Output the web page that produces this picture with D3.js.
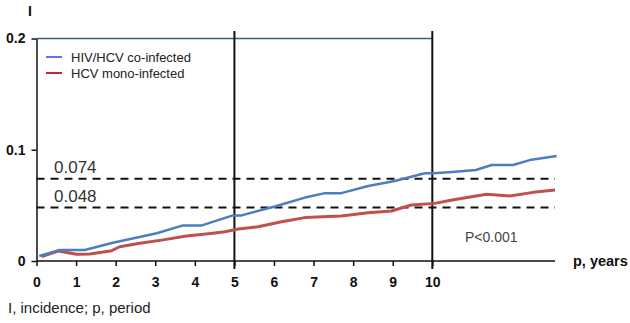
<!DOCTYPE html>
<html><head><meta charset="utf-8">
<script src="https://cdn.jsdelivr.net/npm/d3@7"></script>
<style>body{margin:0;background:#fff}svg{display:block}text{font-family:"Liberation Sans",Arial,sans-serif}</style>
</head><body><svg id="c" width="630" height="323"></svg>
<script>
const xTicks = [0,1,2,3,4,5,6,7,8,9,10];
const yTicks = [0, 0.1, 0.2];
const yTickLabels = ["0", "0.1", "0.2"];
const refLines = [0.074, 0.048];
const refLabels = ["0.074", "0.048"];
const markYears = [5, 10];
const seriesNames = ["HIV/HCV co-infected", "HCV mono-infected"];
const coYears = [0.07,0.59,1.22,1.93,3.04,3.7,4.18,4.96,5.18,6.02,6.78,7.29,7.7,8.38,9.05,9.81,10.02,10.5,11.1,11.5,12.04,12.46,13.14];
const coVals  = [0.0045,0.0099,0.0099,0.0164,0.025,0.032,0.032,0.041,0.041,0.049,0.057,0.061,0.061,0.0674,0.0719,0.0788,0.0788,0.080,0.0818,0.0863,0.0863,0.0907,0.0943];
const monoYears = [0.13,0.55,1.01,1.35,1.9,2.1,2.61,3.2,3.79,4.46,4.76,5.1,5.6,6.19,6.78,7.7,8.38,8.97,9.47,10.06,10.5,11.37,11.96,12.55,13.1];
const monoVals  = [0.004,0.009,0.006,0.0063,0.0093,0.0128,0.016,0.019,0.0225,0.025,0.0263,0.0288,0.0308,0.0353,0.039,0.0404,0.0434,0.045,0.0503,0.0518,0.0548,0.06,0.0584,0.0617,0.0638];

const svg = d3.select("#c");
const x = d3.scaleLinear().domain([0, 13.15]).range([36.5, 557]);
const y = d3.scaleLinear().domain([0, 0.2]).range([261, 38.5]);

svg.append("line").attr("x1", x(0)).attr("x2", x(10)).attr("y1", y(0.2)).attr("y2", y(0.2))
  .attr("stroke", "#3e5c8c").attr("stroke-width", 1.6);

const ya = svg.append("g").attr("transform", `translate(${x(0)},0)`)
  .call(d3.axisLeft(y).tickValues(yTicks).tickFormat((d,i)=>yTickLabels[i]).tickSize(5).tickSizeOuter(0));
ya.select(".domain").attr("stroke", "#111").attr("stroke-width", 1.5);
ya.selectAll(".tick line").attr("stroke", "#111").attr("stroke-width", 1.5);
ya.selectAll(".tick text").attr("x", -11).attr("font-size", 14).attr("font-weight", "bold").attr("fill", "#111")
  .style("font-family", "'Liberation Sans', Arial, sans-serif");

const xa = svg.append("g").attr("transform", `translate(0,${y(0)})`)
  .call(d3.axisBottom(x).tickValues(xTicks).tickFormat(d3.format("d")).tickSize(5).tickSizeOuter(0));
xa.select(".domain").attr("stroke", "#111").attr("stroke-width", 1.5).attr("d", `M${x(0)},0H${555}`);
xa.selectAll(".tick line").attr("stroke", "#111").attr("stroke-width", 1.5);
xa.selectAll(".tick text").attr("y", 16).attr("font-size", 14).attr("font-weight", "bold").attr("fill", "#111")
  .style("font-family", "'Liberation Sans', Arial, sans-serif");

refLines.forEach((v,i) => {
  svg.append("line").attr("x1", x(0)).attr("x2", 555).attr("y1", y(v)).attr("y2", y(v))
    .attr("stroke", "#111").attr("stroke-width", 2).attr("stroke-dasharray", "8,6");
  svg.append("text").attr("x", 54).attr("y", y(v) - 6).attr("font-size", 17).attr("fill", "#333").text(refLabels[i]);
});

markYears.forEach(v => {
  svg.append("line").attr("x1", x(v)).attr("x2", x(v)).attr("y1", 31).attr("y2", 269)
    .attr("stroke", "#111").attr("stroke-width", 2);
});

const line = d3.line().x(d=>x(d[0])).y(d=>y(d[1])).curve(d3.curveLinear);
svg.append("path").datum(monoYears.map((d,i)=>[d, monoVals[i]])).attr("d", line)
  .attr("fill", "none").attr("stroke", "#c0504d").attr("stroke-width", 3).attr("stroke-linejoin", "round");
svg.append("path").datum(coYears.map((d,i)=>[d, coVals[i]])).attr("d", line)
  .attr("fill", "none").attr("stroke", "#4a7ebf").attr("stroke-width", 2.5).attr("stroke-linejoin", "round");

const legColors = ["#6370f0", "#c8282a"];
seriesNames.forEach((n,i) => {
  const ly = 57 + i*16;
  svg.append("line").attr("x1", 46).attr("x2", 62).attr("y1", ly).attr("y2", ly).attr("stroke", legColors[i]).attr("stroke-width", 2);
  svg.append("text").attr("x", 71).attr("y", ly + 4.5).attr("font-size", 13).attr("fill", "#222").text(n);
});

svg.append("text").attr("x", 465).attr("y", 242).attr("font-size", 14).attr("fill", "#444").text("P<0.001");
svg.append("text").attr("x", 573).attr("y", 266).attr("font-size", 14.5).attr("font-weight", "bold").attr("fill", "#111").text("p, years");
svg.append("text").attr("x", 28).attr("y", 16).attr("font-size", 14).attr("font-weight", "bold").attr("fill", "#111").text("I");
svg.append("text").attr("x", 8).attr("y", 313).attr("font-size", 15).attr("fill", "#222").text("I, incidence; p, period");
</script></body></html>
